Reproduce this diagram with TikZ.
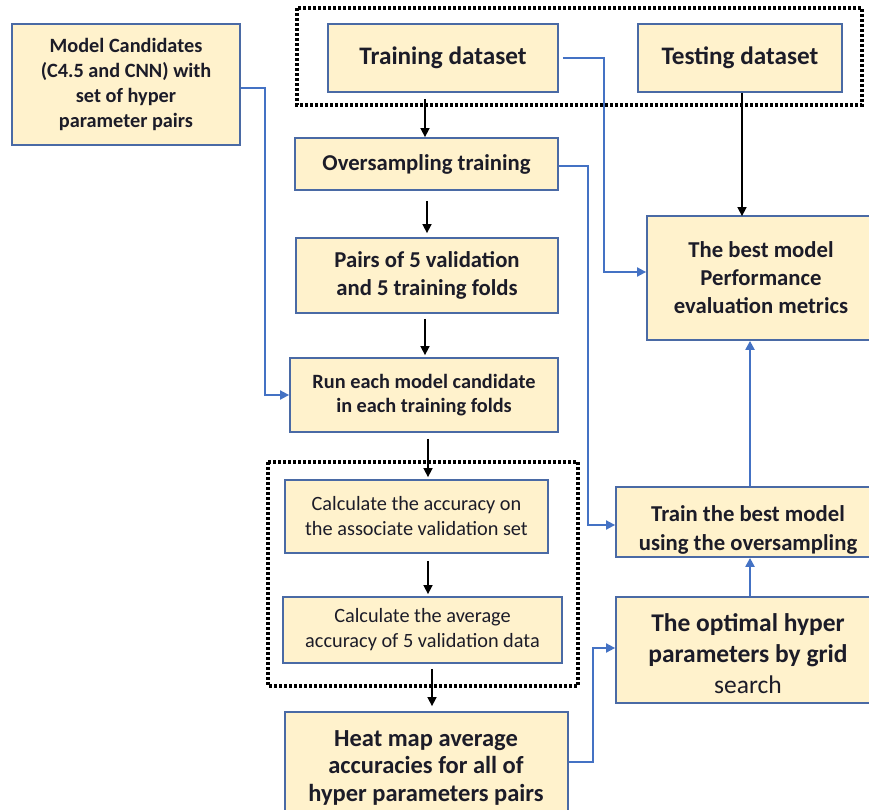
\documentclass[tikz,border=0pt]{standalone}
\usepackage{fontspec}
\setmainfont{Carlito}
\usetikzlibrary{arrows.meta,calc}
\definecolor{boxfill}{HTML}{FFF2CC}
\definecolor{boxedge}{HTML}{4A6AA5}
\definecolor{linkblue}{HTML}{4472C4}
\definecolor{txt}{HTML}{1C1C28}
\tikzset{
  box/.style={draw=boxedge, line width=1.8pt, fill=boxfill, inner sep=0pt, align=center, text=txt},
  dotbox/.style={draw=black, line width=3.2pt, dash pattern=on 2.6pt off 2.4pt},
  blk/.style={draw=black, line width=1.6pt, -{Triangle[length=9pt,width=9pt]}},
  blu/.style={draw=linkblue, line width=1.8pt, -{Triangle[length=9pt,width=9pt]}},
}
\newcommand{\mybox}[7]{%
  \node[box, minimum width=#4-#2, minimum height=#5-#3, font=#7] (#1) at ({(#2+#4)/2},{(#3+#5)/2}) {#6};}
\begin{document}
\begin{tikzpicture}[x=1pt,y=-1pt]
\useasboundingbox (0,0) rectangle (869,810);
\clip (0,0) rectangle (869,810);
\fill[white] (0,0) rectangle (869,810);
% dotted groups
\draw[dotbox] (297,8) rectangle (862,105);
\draw[dotbox] (268,462) rectangle (578,686);
% boxes
\mybox{cand}{12}{24}{240}{145}{Model Candidates\\(C4.5 and CNN) with\\set of hyper\\parameter pairs}{\bfseries\fontsize{20.3}{25.2}\selectfont}
\mybox{train}{328}{24}{558}{92}{Training dataset}{\bfseries\fontsize{25.2}{25}\selectfont}
\mybox{test}{638}{24}{842}{92}{Testing dataset}{\bfseries\fontsize{25.2}{25}\selectfont}
\mybox{over}{295}{138}{558}{190}{Oversampling training}{\bfseries\fontsize{22.7}{25}\selectfont}
\mybox{pairs}{296}{238}{558}{313}{Pairs of 5 validation\\and 5 training folds}{\bfseries\fontsize{22.7}{27.5}\selectfont}
\mybox{run}{290}{358}{558}{432}{Run each model candidate\\in each training folds}{\bfseries\fontsize{20.3}{24.5}\selectfont}
\mybox{acc}{285}{480}{548}{553}{Calculate the accuracy on\\the associate validation set}{\fontsize{20.3}{25}\selectfont}
\mybox{avg}{283}{597}{562}{663}{Calculate the average\\accuracy of 5 validation data}{\fontsize{20.3}{25}\selectfont}
\mybox{best}{647}{216}{880}{340}{}{\bfseries}
\node[align=center, text=txt, font=\bfseries\fontsize{22.7}{28}\selectfont] (bestt) at (761,278) {The best model\\Performance\\evaluation metrics};
\mybox{opt}{616}{597}{880}{703}{}{\bfseries}
\node[align=center, text=txt, font=\bfseries\fontsize{25.5}{31}\selectfont] (optt) at (748,654) {The optimal hyper\\parameters by grid\\{\mdseries search}};
\mybox{tbest}{616}{487}{880}{557}{}{\bfseries}
\begin{scope}
\clip (617,488) rectangle (880,553);
\node[align=center, text=txt, font=\bfseries\fontsize{22.7}{29}\selectfont, anchor=north] (tbt) at (748,502) {Train the best model\\using the oversampling};
\end{scope}
\mybox{heat}{285}{712}{568}{830}{}{\bfseries}
\node[align=center, text=txt, font=\bfseries\fontsize{24.5}{27.5}\selectfont, anchor=north] (heatt) at (426,727) {Heat map average\\accuracies for all of\\hyper parameters pairs};
% black arrows
\coordinate (xa) at (425,0);
\coordinate (xb) at (427,0);
\coordinate (xc) at (428,0);
\coordinate (xd) at (432,0);
\coordinate (xe) at (742,0);
\draw[blk, shorten <=6pt] (train.south -| xa) -- (over.north -| xa);
\draw[blk, shorten <=10pt, shorten >=4pt] (over.south -| xb) -- (pairs.north -| xb);
\draw[blk, shorten <=5pt, shorten >=2pt] (pairs.south -| xa) -- (run.north -| xa);
\draw[blk, shorten <=6pt, shorten >=2pt] (run.south -| xc) -- (acc.north -| xc);
\draw[blk, shorten <=7pt, shorten >=2pt] (acc.south -| xc) -- (avg.north -| xc);
\draw[blk, shorten <=5pt, shorten >=5pt] (avg.south -| xd) -- (heat.north -| xd);
\draw[blk, shorten >=-1pt] (test.south -| xe) -- (best.north -| xe);
% blue connectors
\coordinate (k1) at (265,0);
\coordinate (k2) at (604,0);
\coordinate (k3) at (588,0);
\coordinate (k4) at (593,0);
\coordinate (k5) at (750,0);
\coordinate (r1) at (0,395);
\coordinate (r2) at (0,272);
\coordinate (r3) at (0,525);
\coordinate (r4) at (0,648);
\coordinate (l1) at (0,88);
\coordinate (l2) at (0,58);
\coordinate (l3) at (0,166);
\coordinate (l4) at (0,762);
\draw[blu] (cand.east |- l1) -| (k1 |- r1) -- (run.west |- r1);
\draw[blu] ($(train.east |- l2)+(4,0)$) -| (k2 |- r2) -- (best.west |- r2);
\draw[blu] (over.east |- l3) -| (k3 |- r3) -- (tbest.west |- r3);
\draw[blu] (heat.east |- l4) -| (k4 |- r4) -- (opt.west |- r4);
\draw[blu, line width=2.2pt] (opt.north -| k5) -- (tbest.south -| k5);
\draw[blu, line width=2.2pt] (tbest.north -| k5) -- (best.south -| k5);
\end{tikzpicture}
\end{document}
